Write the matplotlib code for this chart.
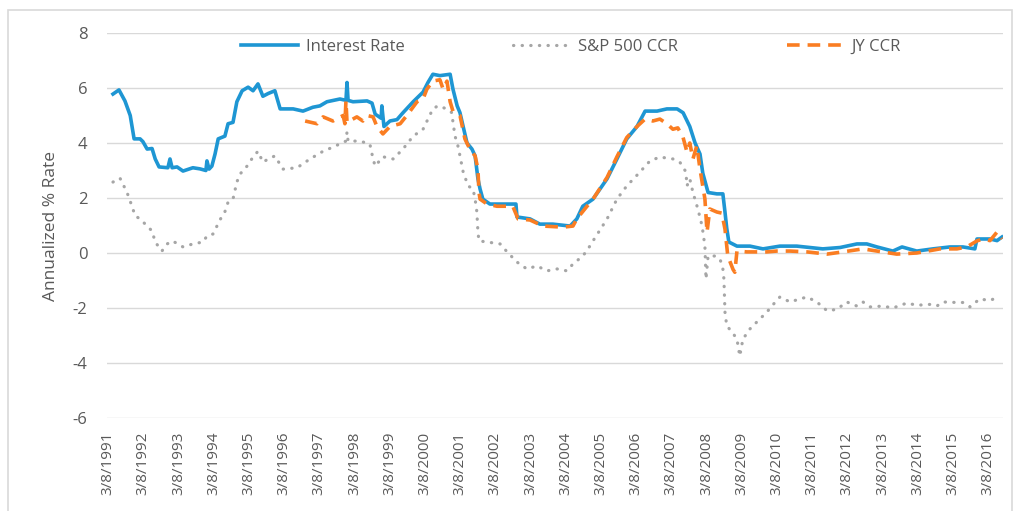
import matplotlib
matplotlib.use("Agg")
import matplotlib.pyplot as plt
from matplotlib.patches import Rectangle

plt.rcParams['font.family'] = ['Open Sans', 'DejaVu Sans']
plt.rcParams['axes.unicode_minus'] = False

# decimal years, values
ir_t = [1991.32, 1991.49, 1991.66, 1991.81, 1991.92, 1992.09, 1992.17, 1992.29, 1992.43, 1992.52,
        1992.63, 1992.88, 1992.94, 1993.00, 1993.14, 1993.31, 1993.59, 1993.79, 1993.96, 1993.99,
        1994.05, 1994.13, 1994.22, 1994.31, 1994.50, 1994.59, 1994.73, 1994.84, 1994.99, 1995.16,
        1995.30, 1995.44, 1995.58, 1995.73, 1995.92, 1996.07, 1996.44, 1996.72, 1997.00, 1997.20,
        1997.40, 1997.77, 1997.94, 1997.97, 1998.00, 1998.14, 1998.54, 1998.68, 1998.77, 1998.94,
        1998.96, 1999.02, 1999.19, 1999.39, 1999.56, 1999.85, 2000.13, 2000.27, 2000.41, 2000.61,
        2000.90, 2000.98, 2001.10, 2001.18, 2001.27, 2001.38, 2001.52, 2001.61, 2001.69, 2001.75,
        2001.83, 2002.03, 2002.40, 2002.77, 2002.80, 2003.17, 2003.45, 2003.82, 2004.31, 2004.50,
        2004.67, 2004.96, 2005.36, 2005.64, 2005.92, 2006.21, 2006.44, 2006.78, 2007.06, 2007.35,
        2007.52, 2007.71, 2007.86, 2008.00, 2008.08, 2008.23, 2008.48, 2008.65, 2008.71, 2008.76,
        2008.82, 2009.05, 2009.42, 2009.79, 2010.27, 2010.75, 2011.12, 2011.49, 2011.98, 2012.46,
        2012.74, 2013.03, 2013.48, 2013.74, 2014.16, 2014.62, 2015.10, 2015.47, 2015.81, 2015.87,
        2016.24, 2016.44, 2016.58]
ir_v = [5.78, 5.93, 5.53, 5.00, 4.15, 4.15, 4.05, 3.78, 3.80, 3.42,
        3.13, 3.10, 3.42, 3.10, 3.13, 2.98, 3.10, 3.06, 3.00, 3.35,
        3.05, 3.16, 3.60, 4.15, 4.25, 4.70, 4.75, 5.50, 5.90, 6.03,
        5.90, 6.15, 5.70, 5.80, 5.90, 5.24, 5.24, 5.16, 5.30, 5.35,
        5.50, 5.60, 5.55, 6.20, 5.55, 5.50, 5.53, 5.45, 5.05, 4.90,
        5.35, 4.60, 4.80, 4.85, 5.10, 5.50, 5.85, 6.20, 6.50, 6.45,
        6.50, 5.96, 5.35, 5.10, 4.60, 4.00, 3.78, 3.53, 2.70, 2.33,
        1.96, 1.78, 1.78, 1.78, 1.31, 1.24, 1.05, 1.05, 0.98, 1.24,
        1.70, 1.96, 2.70, 3.42, 4.15, 4.60, 5.16, 5.16, 5.24, 5.24,
        5.10, 4.60, 4.00, 3.60, 2.90, 2.20, 2.15, 2.15, 1.49, 0.90,
        0.40, 0.25, 0.25, 0.15, 0.25, 0.25, 0.20, 0.15, 0.20, 0.33,
        0.33, 0.22, 0.07, 0.22, 0.07, 0.15, 0.22, 0.22, 0.15, 0.51,
        0.51, 0.45, 0.58]

sp_t = [1991.32, 1991.52, 1991.72, 1991.86, 1991.95, 1992.09, 1992.29, 1992.43, 1992.52, 1992.71,
        1992.86, 1993.00, 1993.17, 1993.31, 1993.59, 1993.88, 1993.99, 1994.16, 1994.42, 1994.50,
        1994.59, 1994.73, 1994.84, 1994.93, 1995.13, 1995.30, 1995.44, 1995.58, 1995.73, 1995.92,
        1996.15, 1996.55, 1996.92, 1997.29, 1997.57, 1997.94, 1997.97, 1998.00, 1998.34, 1998.62,
        1998.71, 1998.77, 1998.99, 1999.28, 1999.56, 1999.85, 2000.13, 2000.27, 2000.41, 2000.55,
        2000.81, 2000.95, 2000.98, 2001.04, 2001.12, 2001.18, 2001.27, 2001.41, 2001.55, 2001.61,
        2001.66, 2001.69, 2001.72, 2001.95, 2002.32, 2002.52, 2002.80, 2003.08, 2003.37, 2003.65,
        2003.94, 2004.22, 2004.39, 2004.67, 2004.82, 2004.96, 2005.36, 2005.64, 2005.92, 2006.24,
        2006.58, 2006.86, 2007.23, 2007.43, 2007.60, 2007.63, 2007.71, 2007.80, 2007.94, 2008.06,
        2008.14, 2008.17, 2008.23, 2008.42, 2008.57, 2008.65, 2008.68, 2008.71, 2008.76, 2008.91,
        2009.05, 2009.13, 2009.22, 2009.42, 2009.70, 2009.90, 2010.04, 2010.27, 2010.56, 2010.84,
        2011.04, 2011.32, 2011.61, 2011.89, 2012.17, 2012.46, 2012.63, 2012.83, 2013.20, 2013.48,
        2013.88, 2014.16, 2014.53, 2014.73, 2014.90, 2015.30, 2015.47, 2015.67, 2015.95, 2016.24,
        2016.46]
sp_v = [2.58, 2.72, 2.20, 1.70, 1.35, 1.24, 0.98, 0.80, 0.40, 0.07,
        0.33, 0.44, 0.33, 0.22, 0.33, 0.40, 0.62, 0.69, 1.35, 1.50,
        1.85, 1.96, 2.58, 2.87, 3.16, 3.49, 3.70, 3.30, 3.42, 3.53,
        3.05, 3.10, 3.42, 3.70, 3.85, 4.07, 4.40, 4.07, 4.07, 3.96,
        3.42, 3.16, 3.50, 3.42, 3.78, 4.25, 4.50, 4.87, 5.24, 5.35,
        5.24, 5.10, 4.76, 4.25, 3.90, 3.53, 2.95, 2.44, 2.33, 1.96,
        1.49, 0.76, 0.44, 0.40, 0.33, 0.04, -0.33, -0.58, -0.47, -0.65,
        -0.58, -0.65, -0.40, -0.11, 0.15, 0.44, 1.24, 1.96, 2.44, 2.87,
        3.35, 3.49, 3.42, 3.30, 2.95, 2.44, 2.70, 2.20, 1.60, 0.98,
        0.25, -0.95, -0.11, -0.11, -0.22, -0.58, -0.95, -2.15, -2.65, -2.87,
        -3.13, -3.75, -3.13, -2.76, -2.40, -2.15, -1.93, -1.60, -1.78, -1.67,
        -1.60, -1.78, -2.10, -2.05, -1.78, -1.93, -1.78, -1.96, -1.93, -2.00,
        -1.82, -1.90, -1.87, -1.93, -1.78, -1.80, -1.80, -1.96, -1.67, -1.73,
        -1.60]

jy_t = [1996.78, 1997.12, 1997.29, 1997.57, 1997.86, 1997.91, 1997.94, 1997.97, 1998.25, 1998.42,
        1998.54, 1998.71, 1998.82, 1998.99, 1999.19, 1999.48, 1999.67, 1999.96, 2000.13, 2000.24,
        2000.41, 2000.61, 2000.70, 2000.81, 2000.90, 2000.98, 2001.18, 2001.32, 2001.46, 2001.61,
        2001.69, 2001.72, 2001.75, 2001.95, 2002.23, 2002.68, 2002.83, 2003.17, 2003.54, 2004.11,
        2004.39, 2004.50, 2004.79, 2004.96, 2005.36, 2005.64, 2005.92, 2006.21, 2006.44, 2006.66,
        2006.86, 2007.06, 2007.23, 2007.37, 2007.52, 2007.63, 2007.71, 2007.80, 2007.91, 2008.00,
        2008.14, 2008.20, 2008.28, 2008.48, 2008.62, 2008.71, 2008.79, 2008.94, 2008.99, 2009.05,
        2009.33, 2009.90, 2010.18, 2010.56, 2011.04, 2011.61, 2012.06, 2012.63, 2013.03, 2013.59,
        2014.16, 2014.82, 2015.30, 2015.58, 2015.87, 2016.04, 2016.24, 2016.44, 2016.58]
jy_v = [4.80, 4.70, 4.95, 4.80, 5.00, 4.70, 5.53, 4.75, 4.95, 4.80,
        5.00, 4.95, 4.60, 4.33, 4.60, 4.70, 5.00, 5.50, 5.60, 5.96,
        6.25, 6.30, 5.96, 6.25, 5.50, 5.16, 5.00, 4.15, 3.78, 3.53,
        3.05, 2.20, 1.96, 1.78, 1.70, 1.70, 1.24, 1.20, 0.98, 0.94,
        0.98, 1.24, 1.70, 1.96, 2.75, 3.50, 4.20, 4.60, 4.87, 4.80,
        4.87, 4.70, 4.50, 4.55, 4.20, 3.67, 4.00, 3.42, 3.90, 3.05,
        1.96, 0.76, 1.60, 1.49, 1.45, 0.87, -0.11, -0.60, -0.70, 0.07,
        0.04, 0.04, 0.07, 0.07, 0.04, -0.04, 0.04, 0.15, 0.07, -0.04,
        0.00, 0.15, 0.15, 0.22, 0.44, 0.51, 0.45, 0.76, 0.51]

tick_years = list(range(1991, 2017))
tick_pos = [y + 67 / 365 for y in tick_years]
tick_labels = ['3/8/%d' % y for y in tick_years]

fig = plt.figure(figsize=(10.14, 5.11), dpi=100)
ax = fig.add_axes([107 / 1014, 1 - 418 / 511, 896 / 1014, 385 / 511])

txt = '#595959'
ax.plot(ir_t, ir_v, color='#1E96D3', lw=2.6, label='Interest Rate', zorder=3)
ax.plot(sp_t, sp_v, color='#A6A6A6', lw=2.3, linestyle=(0, (0.1, 2.6)),
        dash_capstyle='round', label='S&P 500 CCR', zorder=3)
ax.plot(jy_t, jy_v, color='#FA7D22', lw=2.6, linestyle=(0, (3.5, 2.2)),
        label='JY CCR', zorder=4)

ax.set_xlim(1991.15, 2016.61)
ax.set_ylim(-6, 8)
ax.set_yticks(range(-6, 9, 2))
ax.set_xticks(tick_pos)
ax.set_xticklabels(tick_labels, rotation=90)
ax.tick_params(axis='y', length=0, labelsize=12, colors=txt, pad=14)
ax.tick_params(axis='x', length=0, labelsize=11, colors=txt, pad=10)
ax.grid(axis='y', color='#D9D9D9', lw=1)
ax.set_axisbelow(True)
for s in ax.spines.values():
    s.set_visible(False)
ax.set_ylabel('Annualized % Rate', fontsize=12.5, color=txt, labelpad=10)

leg = ax.legend(loc='center', bbox_to_anchor=(0.518, 0.964), ncol=3, frameon=False,
                fontsize=12, handlelength=3.4, handletextpad=0.5, columnspacing=6.5)
for t in leg.get_texts():
    t.set_color(txt)

fig.patches.append(Rectangle((8 / 1014, -0.05), 1004 / 1014, 1 - 10 / 511 + 0.05,
                             transform=fig.transFigure, fill=False,
                             edgecolor='#D9D9D9', lw=1.2))

fig.savefig('out.png', dpi=100)
